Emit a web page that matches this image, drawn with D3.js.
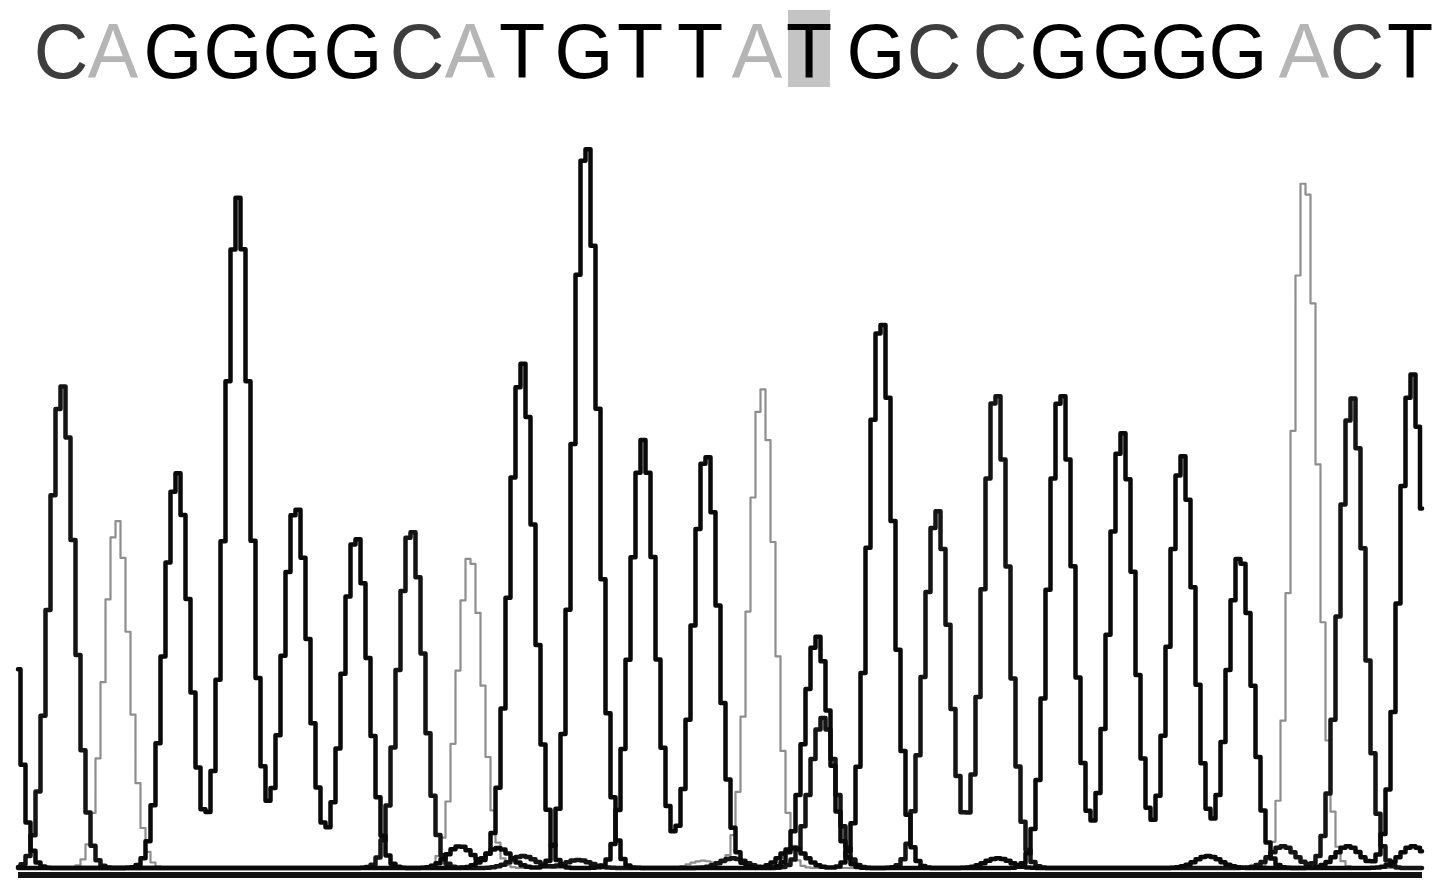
<!DOCTYPE html>
<html><head><meta charset="utf-8">
<script src="https://cdn.jsdelivr.net/npm/d3@7"></script>
<style>html,body{margin:0;padding:0;background:#fff;} svg{display:block}</style>
</head><body>
<svg id="chart" width="1441" height="894"></svg>
<script>
// ---- Data (scan units / signal units) ----
const baseCalls = ["C","A","G","G","G","G","C","A","T","G","T","T","A","T","G","C","C","G","G","G","G","A","C","T"];
const baseCallScan = [8.6,19,31,43,54.8,67,79.8,90.4,100.8,113.2,124.4,136.4,147.8,158.2,171.6,183.2,196.4,208.2,220.8,232.4,244,257.2,267.8,278.4];
const highlightIndex = 13;

const peaksA_scan   = [19.8, 90.4, 137, 148.8, 257.4];
const peaksA_signal = [956, 860, 20, 1319, 1904];
const peaksC_scan   = [8.8, 78.6, 101, 112, 143, 161, 183.8, 195.6, 253, 266.8];
const peaksC_signal = [1327, 934, 33, 22, 27, 412, 983, 1313, 60, 1294];
const peaksG_scan   = [31.8, 44, 55.6, 67.6, 96, 113.6, 155, 172.6, 208.6, 220.8, 232.8, 244.4, 279];
const peaksG_signal = [1088, 1841, 997, 915, 55, 2000, 55, 1511, 1313, 1198, 1135, 860, 60];
const peaksT_scan   = [-3.6, 88.4, 100.8, 125, 137.6, 159.8, 196, 238, 266, 278.8];
const peaksT_signal = [1540, 60, 1390, 1176, 1143, 637, 27, 33, 60, 1360];

const scanStart = 0, scanEnd = 280.8;
const peakSigma = 2.5; // scans

// ---- Scales ----
const x = d3.scaleLinear().domain([scanStart, scanEnd]).range([18, 1422]);
const y = d3.scaleLinear().domain([0, 2000]).range([868, 140]);

const svg = d3.select("#chart");

function trace(scans, signals) {
  const pts = [];
  const samples = d3.range(scanStart, scanEnd, 1).concat([scanEnd]);
  for (const s of samples) {
    let v = 0;
    scans.forEach((p, i) => { const d = s - p; v += signals[i] * Math.exp(-d * d / (2 * peakSigma * peakSigma)); });
    pts.push([s, v]);
  }
  return pts;
}

const line = d3.line().x(d => x(d[0])).y(d => y(d[1])).curve(d3.curveStep);

const channels = [
  {scans: peaksA_scan, signals: peaksA_signal, color: "#8e8e8e", width: 2.2},
  {scans: peaksC_scan, signals: peaksC_signal, color: "#151515", width: 4.5},
  {scans: peaksG_scan, signals: peaksG_signal, color: "#0a0a0a", width: 4.5},
  {scans: peaksT_scan, signals: peaksT_signal, color: "#0a0a0a", width: 4.5}
];

// baseline axis
svg.append("line")
  .attr("x1", x(scanStart)).attr("x2", x(scanEnd))
  .attr("y1", y(0) + 7).attr("y2", y(0) + 7)
  .attr("stroke", "#111").attr("stroke-width", 6);

svg.selectAll("path.trace").data(channels).enter().append("path")
  .attr("class", "trace")
  .attr("d", c => line(trace(c.scans, c.signals)))
  .attr("fill", "none")
  .attr("stroke", c => c.color)
  .attr("stroke-width", c => c.width)
  .attr("stroke-linejoin", "round")
  .attr("stroke-linecap", "round");

// highlight box
svg.append("rect")
  .attr("x", x(baseCallScan[highlightIndex]) - 21)
  .attr("y", 10).attr("width", 42).attr("height", 77)
  .attr("fill", "#c4c4c4");

const baseColor = {A: "#b5b5b5", C: "#3d3d3d", G: "#000", T: "#000"};
svg.selectAll("text.base").data(baseCalls).enter().append("text")
  .attr("class", "base")
  .attr("transform", (d, i) => `translate(${x(baseCallScan[i])},78) scale(0.97,1)`)
  .attr("text-anchor", "middle")
  .attr("font-family", "'Liberation Sans', Arial, sans-serif")
  .attr("font-size", 78)
  .attr("fill", d => baseColor[d])
  .text(d => d);
</script>
</body></html>
